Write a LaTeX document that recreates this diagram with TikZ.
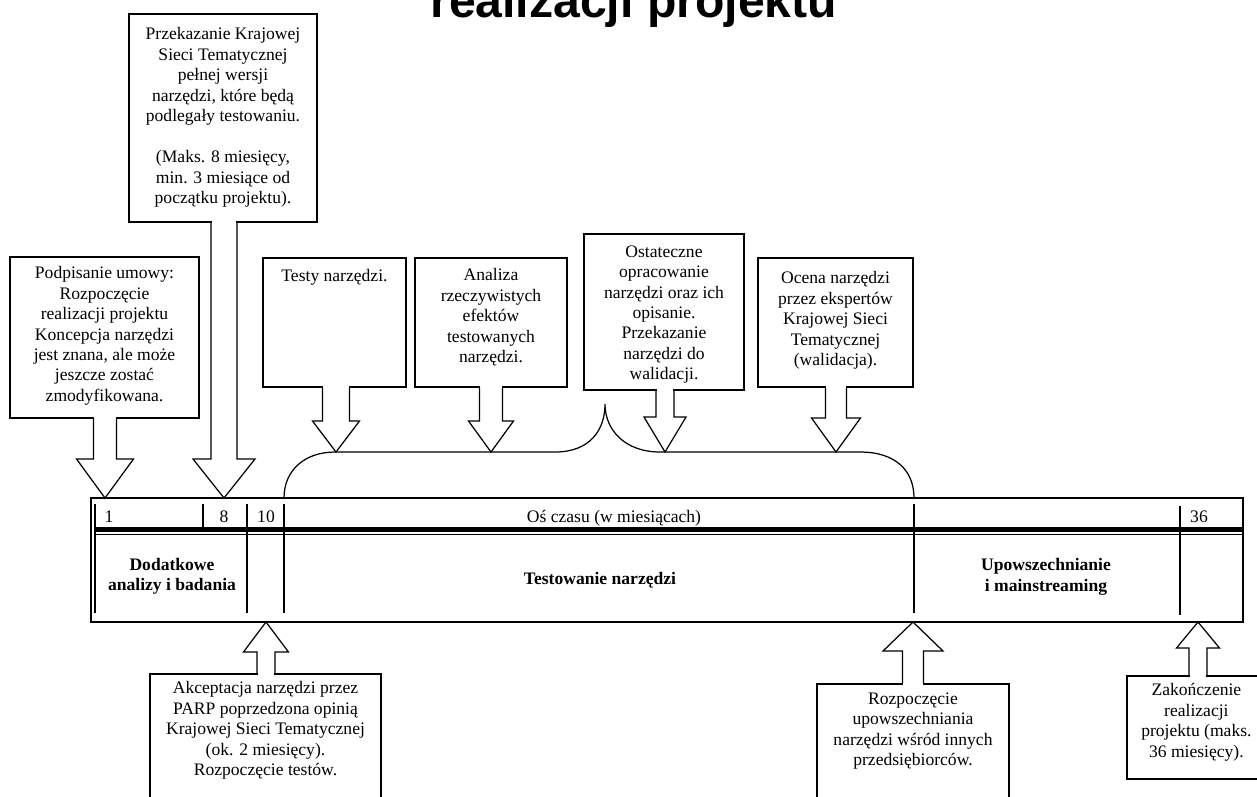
\documentclass[tikz,border=0pt]{standalone}
\usepackage{fontspec}
\setmainfont{Liberation Serif}
\newfontfamily\titlefont{Liberation Sans}
\usetikzlibrary{calc,fit}
\newcommand{\calldown}[5]{%
  \fill[white] ($(#1.south -| #2)+(-#3+0.8,-1.5)$) rectangle ($(#1.south -| #2)+(#3-0.8,1.5)$);
  \draw[arrowline] ($(#1.south -| #2)+(-#3,0)$) -- ($(#2)+(-#3,-#5)$) -- ($(#2)+(-#4,-#5)$) -- (#2) -- ($(#2)+(#4,-#5)$) -- ($(#2)+(#3,-#5)$) -- ($(#1.south -| #2)+(#3,0)$);}
\newcommand{\callup}[5]{%
  \fill[white] ($(#1.north -| #2)+(-#3+0.8,-1.5)$) rectangle ($(#1.north -| #2)+(#3-0.8,1.5)$);
  \draw[arrowline] ($(#1.north -| #2)+(-#3,0)$) -- ($(#2)+(-#3,#5)$) -- ($(#2)+(-#4,#5)$) -- (#2) -- ($(#2)+(#4,#5)$) -- ($(#2)+(#3,#5)$) -- ($(#1.north -| #2)+(#3,0)$);}
\begin{document}
\begin{tikzpicture}[x=0.02cm, y=-0.02cm,
  box/.style={draw, line width=0.7pt, inner sep=0pt},
  txt/.style={align=center, font=\fontsize{10}{11.6}\selectfont, inner sep=0pt, anchor=north},
  bold/.style={align=center, font=\fontsize{10}{11.6}\selectfont\bfseries, inner sep=0pt},
  num/.style={font=\fontsize{10}{11.6}\selectfont, inner sep=0pt, anchor=base},
  arrowline/.style={line width=0.7pt, line join=miter},
  rule/.style={line width=0.7pt}]
\useasboundingbox (0,0) rectangle (1257,796);
\fill[white] (0,0) rectangle (1257,796);
\clip (0,0) rectangle (1257,796);

% title (cut off at the top)
\node[anchor=base west, inner sep=0pt, font=\titlefont\bfseries\fontsize{27.4}{30}\selectfont] (title) at (430,17) {realizacji projektu};

% upper boxes
\node[box, fit={(129,14) (317,222)}] (b1) {};
\node[txt] (b1t) at ($(b1.north)+(0,14)$) {Przekazanie Krajowej\\Sieci Tematycznej\\pełnej wersji\\narzędzi, które będą\\podlegały testowaniu.\\[12pt](Maks. 8 miesięcy,\\min. 3 miesiące od\\początku projektu).};
\node[box, fit={(10,257) (199,418)}] (b2) {};
\node[txt] (b2t) at ($(b2.north)+(0,10)$) {Podpisanie umowy:\\Rozpoczęcie\\realizacji projektu\\Koncepcja narzędzi\\jest znana, ale może\\jeszcze zostać\\zmodyfikowana.};
\node[box, fit={(263,258) (406,387)}] (b3) {};
\node[txt] (b3t) at ($(b3.north)+(0,12)$) {Testy narzędzi.};
\node[box, fit={(415,258) (567,387)}] (b4) {};
\node[txt] (b4t) at ($(b4.north)+(0,11)$) {Analiza\\rzeczywistych\\efektów\\testowanych\\narzędzi.};
\node[box, fit={(584,234) (744,390)}] (b5) {};
\node[txt] (b5t) at ($(b5.north)+(0,12)$) {Ostateczne\\opracowanie\\narzędzi oraz ich\\opisanie.\\Przekazanie\\narzędzi do\\walidacji.};
\node[box, fit={(758,258) (913,387)}] (b6) {};
\node[txt] (b6t) at ($(b6.north)+(0,14)$) {Ocena narzędzi\\przez ekspertów\\Krajowej Sieci\\Tematycznej\\(walidacja).};

% lower boxes
\node[box, fit={(150,674) (381,830)}] (b7) {};
\node[txt] (b7t) at ($(b7.north)+(0,8)$) {Akceptacja narzędzi przez\\PARP poprzedzona opinią\\Krajowej Sieci Tematycznej\\(ok. 2 miesięcy).\\Rozpoczęcie testów.};
\node[box, fit={(817,684) (1009,830)}] (b8) {};
\node[txt] (b8t) at ($(b8.north)+(0,9)$) {Rozpoczęcie\\upowszechniania\\narzędzi wśród innych\\przedsiębiorców.};
\node[box, fit={(1127,676) (1300,779)}] (b9) {};
\node[txt] (b9t) at ($(b9.north west)+(70,8)$) {Zakończenie\\realizacji\\projektu (maks.\\36 miesięcy).};

% time bar
\node[box, fit={(91,498) (1243,622)}] (bar) {};
\draw[rule] (95,504) -- (95,613);
\draw[rule] (203,504) -- (203,527);
\draw[rule] (247,504) -- (247,613);
\draw[rule] (284,504) -- (284,613);
\draw[rule] (914,504) -- (914,613);
\draw[rule] (1180,506) -- (1180,615);
\draw[line width=2.8pt] (95,529.5) -- (1243,529.5);
\draw[line width=0.5pt] (95,534.5) -- (1243,534.5);
\node[num] (n1) at (109,522) {1};
\node[num] (n8) at (224,522) {8};
\node[num] (n10) at (266,522) {10};
\node[num] (n36) at (1199,522) {36};
\node[num] (axis) at (614,522) {Oś czasu (w miesiącach)};
\node[bold] (p1) at (172,576) {Dodatkowe\\analizy i badania};
\node[bold] (p2) at (600,580) {Testowanie narzędzi};
\node[bold] (p3) at (1046,577) {Upowszechnianie\\i mainstreaming};

% brace over the testing period
\draw[rule] (284,498) .. controls (284,470) and (305,452) .. (335,452) -- (555,452)
  .. controls (590,452) and (605,430) .. (605,404)
  .. controls (605,430) and (625,452) .. (660,452) -- (860,452)
  .. controls (895,452) and (914,470) .. (914,498);

% arrow tips
\coordinate (t1) at (224,498);
\coordinate (t2) at (105,498);
\coordinate (t3) at (336,452);
\coordinate (t4) at (491,452);
\coordinate (t5) at (665,452);
\coordinate (t6) at (836,452);
\coordinate (t7) at (266,622);
\coordinate (t8) at (913,622);
\coordinate (t9) at (1198,622);

\calldown{b1}{t1}{13}{31}{39}
\calldown{b2}{t2}{11.5}{28.5}{39}
\calldown{b3}{t3}{13.5}{23.5}{31}
\calldown{b4}{t4}{11.5}{22.5}{31}
\calldown{b5}{t5}{9}{21}{35}
\calldown{b6}{t6}{10.5}{24.5}{34}
\callup{b7}{t7}{9}{22.5}{30}
\callup{b8}{t8}{10.5}{30}{29}
\callup{b9}{t9}{9}{21.5}{26}
\end{tikzpicture}
\end{document}
